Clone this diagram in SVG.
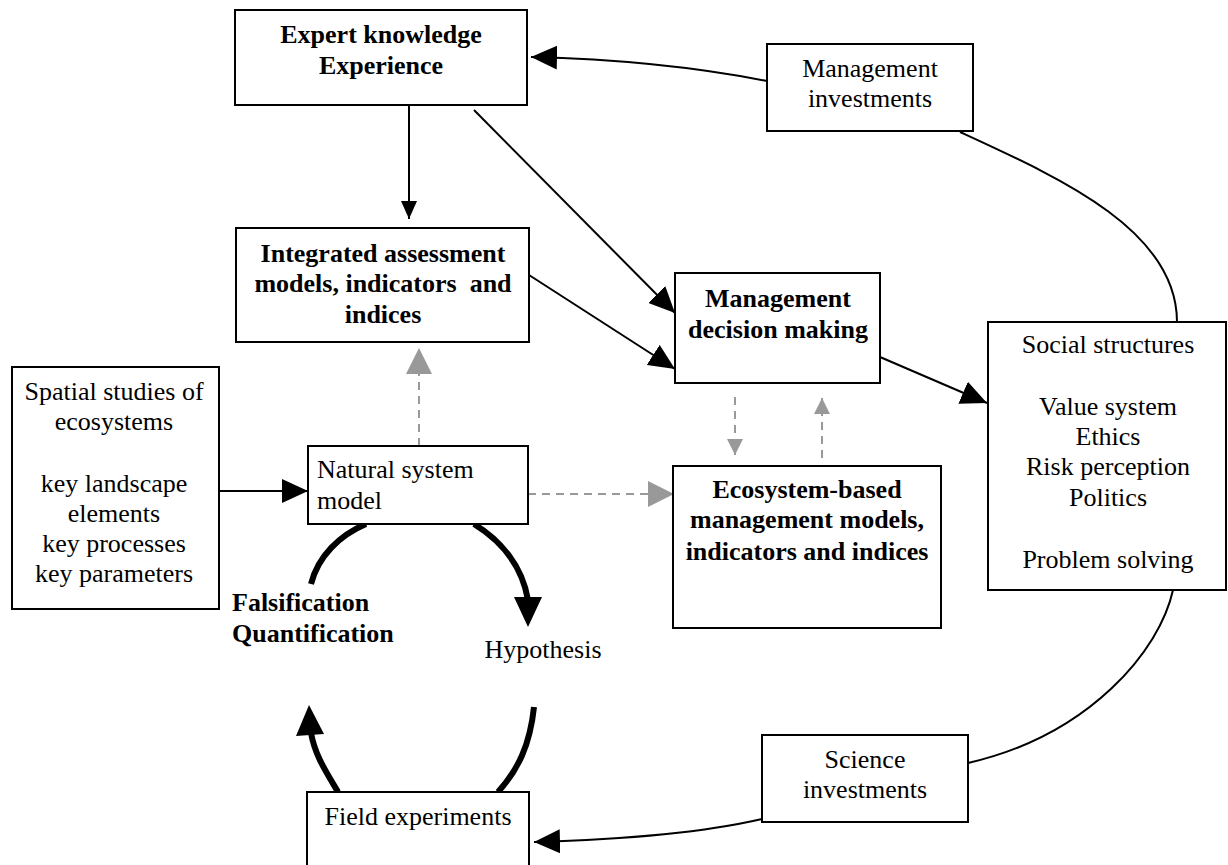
<svg xmlns="http://www.w3.org/2000/svg" width="1228" height="865" viewBox="0 0 1228 865">
<style>
.box{fill:#fff;stroke:#000;stroke-width:2}
.t{font-family:"Liberation Serif","Times New Roman",serif;font-size:26px;fill:#000}
.b{font-weight:bold}
.c{text-anchor:middle}
.ln{fill:none;stroke:#000;stroke-width:2}
.thick{fill:none;stroke:#000;stroke-width:6}
.dash{fill:none;stroke:#999;stroke-width:2;stroke-dasharray:8,6}
</style>
<defs>
<marker id="ah" viewBox="0 0 26 24" refX="26" refY="12" markerWidth="26" markerHeight="24" markerUnits="userSpaceOnUse" orient="auto"><path d="M0,0 L26,12 L0,24 z" fill="#000"/></marker>
<marker id="ahs" viewBox="0 0 18 16" refX="18" refY="8" markerWidth="18" markerHeight="16" markerUnits="userSpaceOnUse" orient="auto"><path d="M0,0 L18,8 L0,16 z" fill="#000"/></marker>
<marker id="gh" viewBox="0 0 26 26" refX="26" refY="13" markerWidth="26" markerHeight="26" markerUnits="userSpaceOnUse" orient="auto"><path d="M0,0 L26,13 L0,26 z" fill="#999"/></marker>
<marker id="ghs" viewBox="0 0 16 16" refX="16" refY="8" markerWidth="16" markerHeight="16" markerUnits="userSpaceOnUse" orient="auto"><path d="M0,0 L16,8 L0,16 z" fill="#999"/></marker>
</defs>

<g id="connectors">
<path class="ln" d="M767,81 Q660,60 531,57" marker-end="url(#ah)"/>
<path class="ln" d="M409,105 L409,219" marker-end="url(#ahs)"/>
<path class="ln" d="M474,110 L675,313" marker-end="url(#ah)"/>
<path class="ln" d="M529,275 L675,369" marker-end="url(#ah)"/>
<path class="ln" d="M880,357 L987,403" marker-end="url(#ah)"/>
<path class="ln" d="M219,491 L308,491" marker-end="url(#ah)"/>
<path class="ln" d="M960,132 C1060,178 1177,230 1177,322"/>
<path class="ln" d="M1173,590 C1160,650 1090,735 968,763"/>
<path class="ln" d="M762,819 Q680,838 534,842" marker-end="url(#ah)"/>
<path class="dash" d="M419,446 L419,348" marker-end="url(#gh)"/>
<path class="dash" d="M528,494 L674,494" marker-end="url(#gh)"/>
<path class="dash" d="M735,397 L735,455" marker-end="url(#ghs)"/>
<path class="dash" d="M822,458 L822,398" marker-end="url(#ghs)"/>
<path class="thick" d="M366,524 C340,535 318,556 311,584"/>
<path class="thick" d="M474,524 C500,540 522,565 528,600"/>
<polygon points="514,597 542,597 528,627" fill="#000"/>
<path class="thick" d="M338,792 C325,770 315,755 311,733"/>
<polygon points="296,736 324,734 309,705" fill="#000"/>
<path class="thick" d="M534,707 C530,745 518,770 498,792"/>
</g>

<g id="expert">
<rect class="box" x="235" y="10" width="292" height="95"/>
<text class="t b c" x="381" y="43">Expert knowledge</text>
<text class="t b c" x="381" y="74">Experience</text>
</g>

<g id="mgmt-investments">
<rect class="box" x="767" y="44" width="206" height="87"/>
<text class="t c" x="870" y="77">Management</text>
<text class="t c" x="870" y="107">investments</text>
</g>

<g id="integrated">
<rect class="box" x="236" y="228" width="293" height="114"/>
<text class="t b c" x="383" y="262">Integrated assessment</text>
<text class="t b c" x="383" y="292" xml:space="preserve">models, indicators  and</text>
<text class="t b c" x="383" y="323">indices</text>
</g>

<g id="mgmt-decision">
<rect class="box" x="675" y="273" width="205" height="110"/>
<text class="t b c" x="778" y="307">Management</text>
<text class="t b c" x="778" y="338">decision making</text>
</g>

<g id="social">
<rect class="box" x="988" y="322" width="238" height="268"/>
<text class="t c" x="1108" y="353">Social structures</text>
<text class="t c" x="1108" y="415">Value system</text>
<text class="t c" x="1108" y="445">Ethics</text>
<text class="t c" x="1108" y="475">Risk perception</text>
<text class="t c" x="1108" y="506">Politics</text>
<text class="t c" x="1108" y="568">Problem solving</text>
</g>

<g id="spatial">
<rect class="box" x="12" y="367" width="207" height="242"/>
<text class="t c" x="114" y="400">Spatial studies of</text>
<text class="t c" x="114" y="430">ecosystems</text>
<text class="t c" x="114" y="492">key landscape</text>
<text class="t c" x="114" y="522">elements</text>
<text class="t c" x="114" y="552">key processes</text>
<text class="t c" x="114" y="582">key parameters</text>
</g>

<g id="natural">
<rect class="box" x="308" y="446" width="220" height="78"/>
<text class="t" x="317" y="478">Natural system</text>
<text class="t" x="317" y="509">model</text>
</g>

<g id="ecosystem">
<rect class="box" x="673" y="466" width="268" height="162"/>
<text class="t b c" x="807" y="498">Ecosystem-based</text>
<text class="t b c" x="807" y="528">management models,</text>
<text class="t b c" x="807" y="560">indicators and indices</text>
</g>

<g id="falsification">
<text class="t b" x="232" y="611">Falsification</text>
<text class="t b" x="232" y="642">Quantification</text>
</g>

<g id="hypothesis">
<text class="t c" x="543" y="658">Hypothesis</text>
</g>

<g id="field">
<rect class="box" x="307" y="792" width="222" height="80"/>
<text class="t c" x="418" y="825">Field experiments</text>
</g>

<g id="science">
<rect class="box" x="762" y="735" width="206" height="87"/>
<text class="t c" x="865" y="768">Science</text>
<text class="t c" x="865" y="798">investments</text>
</g>
</svg>
